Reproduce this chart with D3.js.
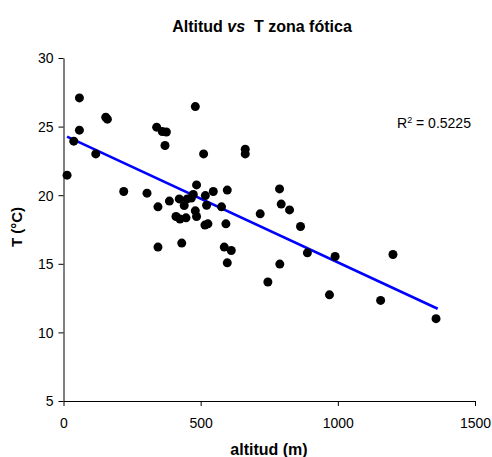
<!DOCTYPE html>
<html>
<head>
<meta charset="utf-8">
<script src="https://cdn.jsdelivr.net/npm/d3@7"></script>
<style>
  html, body { margin: 0; padding: 0; background: #fff; }
  svg { display: block; font-family: Arial, "Liberation Sans", sans-serif; }
</style>
</head>
<body>
<svg id="chart" width="492" height="457"></svg>
<script>
// Data
const altitude = [13, 37.5, 58, 58, 117.6, 154, 160, 219.5, 304.4, 339.6, 344.4, 360, 375, 370,
  386, 410, 422, 424.5, 440, 446.5, 451, 466, 480.5, 485, 480.5, 485, 473, 510.7, 517, 521.6,
  515.5, 526.5, 546, 576, 592, 597, 662.5, 662.5, 717, 344.4, 431, 586, 611.5, 597, 745,
  787.5, 793.6, 824, 864, 889, 990, 1201, 788.5, 969.5, 1156, 1358];
const temperature = [21.46, 23.94, 27.09, 24.74, 23.01, 25.68, 25.54, 20.27, 20.15, 24.96, 19.15,
  24.64, 24.61, 23.62, 19.57, 18.45, 19.73, 18.26, 19.25, 18.35, 19.73, 19.8, 26.46, 20.75, 18.86,
  18.45, 20.05, 23.01, 19.97, 19.27, 17.82, 17.91, 20.27, 19.15, 17.91, 20.37, 23.35, 23.01, 18.64,
  16.22, 16.51, 16.22, 15.97, 15.07, 13.67, 20.46, 19.35, 18.93, 17.72, 15.8, 15.53, 15.68, 14.98,
  12.74, 12.33, 11.0];
const trendX = [13, 1364];
const trendY = [24.27, 11.72];
const xTicks = [0, 500, 1000, 1500];
const yTicks = [5, 10, 15, 20, 25, 30];
const titleParts = [["Altitud ", "normal"], ["vs", "italic"], ["  T zona fótica", "normal"]];
const xLabel = "altitud (m)";
const yLabel = "T (°C)";
const r2Label = "0.5225";

const svg = d3.select("#chart");
const x = d3.scaleLinear().domain([0, 1500]).range([63.5, 475]);
const y = d3.scaleLinear().domain([5, 30]).range([401, 58]);

// Axes
const xAxis = svg.append("g").attr("transform", `translate(0,${y(5)})`)
  .call(d3.axisBottom(x).tickValues(xTicks).tickFormat(d3.format("d"))
    .tickSize(5).tickPadding(12).tickSizeOuter(0));
const yAxis = svg.append("g").attr("transform", `translate(${x(0)},0)`)
  .call(d3.axisLeft(y).tickValues(yTicks).tickFormat(d3.format("d"))
    .tickSize(5).tickPadding(5).tickSizeOuter(0));
[xAxis, yAxis].forEach(g => {
  g.selectAll("path,line").attr("stroke", "#000").attr("stroke-width", 1);
  g.selectAll("text").attr("font-size", 14).attr("fill", "#000")
    .attr("font-family", "Arial, 'Liberation Sans', sans-serif");
});
yAxis.selectAll("text").attr("dy", "0.35em");

// Trend line
svg.append("line")
  .attr("x1", x(trendX[0])).attr("y1", y(trendY[0]))
  .attr("x2", x(trendX[1])).attr("y2", y(trendY[1]))
  .attr("stroke", "#0000ff").attr("stroke-width", 2.6);

// Points
svg.append("g").selectAll("circle")
  .data(altitude.map((a, i) => [a, temperature[i]]))
  .join("circle")
  .attr("cx", d => x(d[0])).attr("cy", d => y(d[1]))
  .attr("r", 4.5).attr("fill", "#000");

// Title
const title = svg.append("text").attr("x", 262).attr("y", 32)
  .attr("text-anchor", "middle").attr("font-size", 16).attr("font-weight", "bold")
  .attr("xml:space", "preserve").style("white-space", "pre");
titleParts.forEach(p => title.append("tspan").attr("font-style", p[1]).text(p[0]));

// Axis titles
svg.append("text").attr("x", 269).attr("y", 455).attr("text-anchor", "middle")
  .attr("font-size", 16).attr("font-weight", "bold").text(xLabel);
svg.append("text").attr("transform", "translate(22,227) rotate(-90)")
  .attr("text-anchor", "middle").attr("font-size", 15).attr("font-weight", "bold").text(yLabel);

// R^2 label
const r2 = svg.append("text").attr("x", 397).attr("y", 128).attr("font-size", 14);
r2.append("tspan").text("R");
r2.append("tspan").attr("font-size", 9).attr("dy", -5).text("2");
r2.append("tspan").attr("dy", 5).text(" = " + r2Label);
</script>
</body>
</html>
